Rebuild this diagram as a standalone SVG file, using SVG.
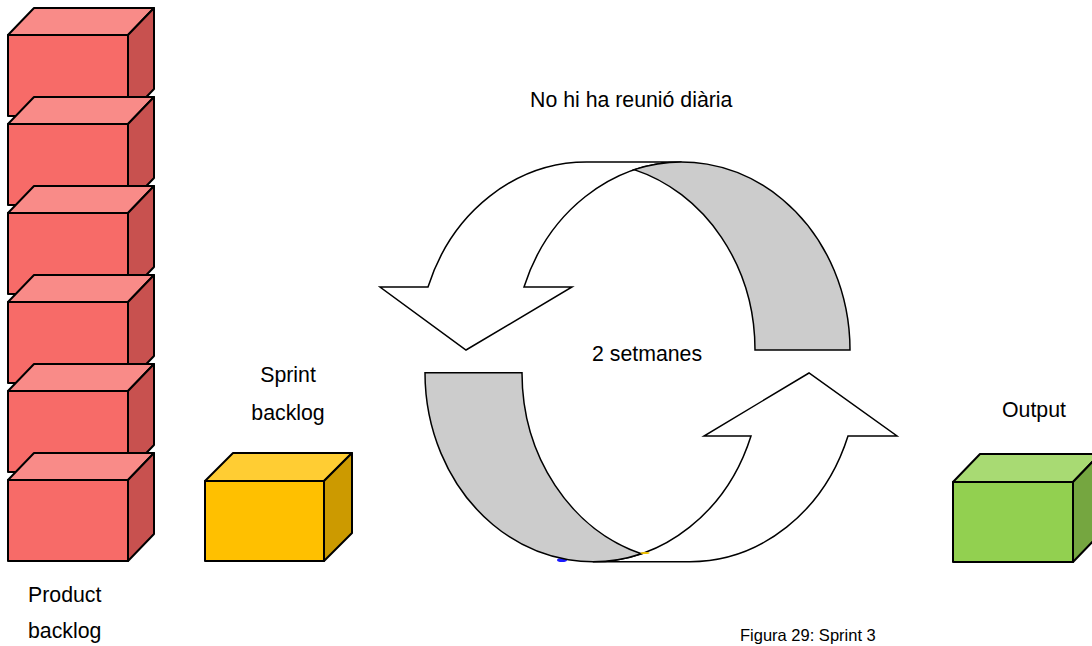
<svg xmlns="http://www.w3.org/2000/svg" width="1092" height="646" viewBox="0 0 1092 646">
  <style>
    .edge { stroke: #000; stroke-width: 2; stroke-linejoin: round; }
    .band { stroke: #000; stroke-width: 1.5; stroke-linejoin: miter; }
    .lbl { font-family: "Liberation Sans", Arial, sans-serif; font-size: 21.3px; fill: #000; }
    .cap { font-family: "Liberation Sans", Arial, sans-serif; font-size: 16.5px; fill: #000; }
    .red-front { fill: #F76B68; } .red-top { fill: #F98B88; } .red-side { fill: #C8514F; }
    .yel-front { fill: #FFC000; } .yel-top { fill: #FFCD33; } .yel-side { fill: #CC9A00; }
    .grn-front { fill: #92D050; } .grn-top { fill: #A8DA73; } .grn-side { fill: #75A640; }
  </style>
  <defs>
    <!-- red block: front 120x81, depth offset (26,-27) -->
    <g id="redCube">
      <polygon class="red-top edge" points="0,0 26,-27 146,-27 120,0"/>
      <polygon class="red-side edge" points="120,0 146,-27 146,54 120,81"/>
      <rect class="red-front edge" x="0" y="0" width="120" height="81"/>
    </g>
  </defs>

  <rect width="1092" height="646" fill="#fff"/>

  <!-- stack of product backlog items -->
  <g id="product-backlog">
    <use href="#redCube" x="8" y="35"/>
    <use href="#redCube" x="8" y="124"/>
    <use href="#redCube" x="8" y="213"/>
    <use href="#redCube" x="8" y="302"/>
    <use href="#redCube" x="8" y="391"/>
    <use href="#redCube" x="8" y="480"/>
    <text class="lbl" x="28" y="602">Product</text>
    <text class="lbl" x="28" y="638">backlog</text>
  </g>

  <g id="sprint-backlog">
    <polygon class="yel-top edge" points="205,481 233,453 352,453 324,481"/>
    <polygon class="yel-side edge" points="324,481 352,453 352,533 324,561"/>
    <rect class="yel-front edge" x="205" y="481" width="119" height="80"/>
    <text class="lbl" x="288" y="382" text-anchor="middle">Sprint</text>
    <text class="lbl" x="288" y="420" text-anchor="middle">backlog</text>
  </g>

  <g id="output">
    <polygon class="grn-top edge" points="953,482 980,454 1100,454 1073,482"/>
    <polygon class="grn-side edge" points="1073,482 1100,454 1100,534 1073,562"/>
    <rect class="grn-front edge" x="953" y="482" width="120" height="80"/>
    <text class="lbl" x="1034" y="417" text-anchor="middle">Output</text>
  </g>

  <!-- two-week cycle: a pair of curved ribbon arrows -->
  <g id="cycle-arrows">
    <!-- upper arrow: head pointing down on the left, shaded tail on the right -->
    <path class="band" fill="#FFFFFF" d="M586.6,162 A168.4,188 0 0 0 428,287 L380,287 L466,350 L572,287 L524,287 A168.4,188 0 0 1 681.6,162 Z"/>
    <path class="band" fill="#CCCCCC" d="M634.1,169.6 A168.4,188 0 0 1 850,350 L755,350 A168.4,188 0 0 0 634.1,169.6 Z"/>
    <!-- lower arrow: shaded tail on the left, head pointing up on the right -->
    <ellipse cx="562" cy="560" rx="5" ry="2" fill="#1A1AFF"/>
    <path class="band" fill="#FFFFFF" d="M592.8,561.7 L689.8,561.7 A167.8,189 0 0 0 848,436 L897,436 L809,373 L704,436 L751,436 A167.8,189 0 0 1 592.8,561.7 Z"/>
    <path class="band" fill="#CCCCCC" d="M425,372.7 L522,372.7 A167.8,189 0 0 0 641.3,553.7 A167.8,189 0 0 1 425,372.7 Z"/>
    <ellipse cx="645" cy="553" rx="4.5" ry="1.1" fill="#F2C200"/>
  </g>

  <g id="labels">
    <text class="lbl" x="530" y="107">No hi ha reunió diària</text>
    <text class="lbl" x="592" y="361">2 setmanes</text>
    <text class="cap" x="740" y="641">Figura 29: Sprint 3</text>
  </g>
</svg>
